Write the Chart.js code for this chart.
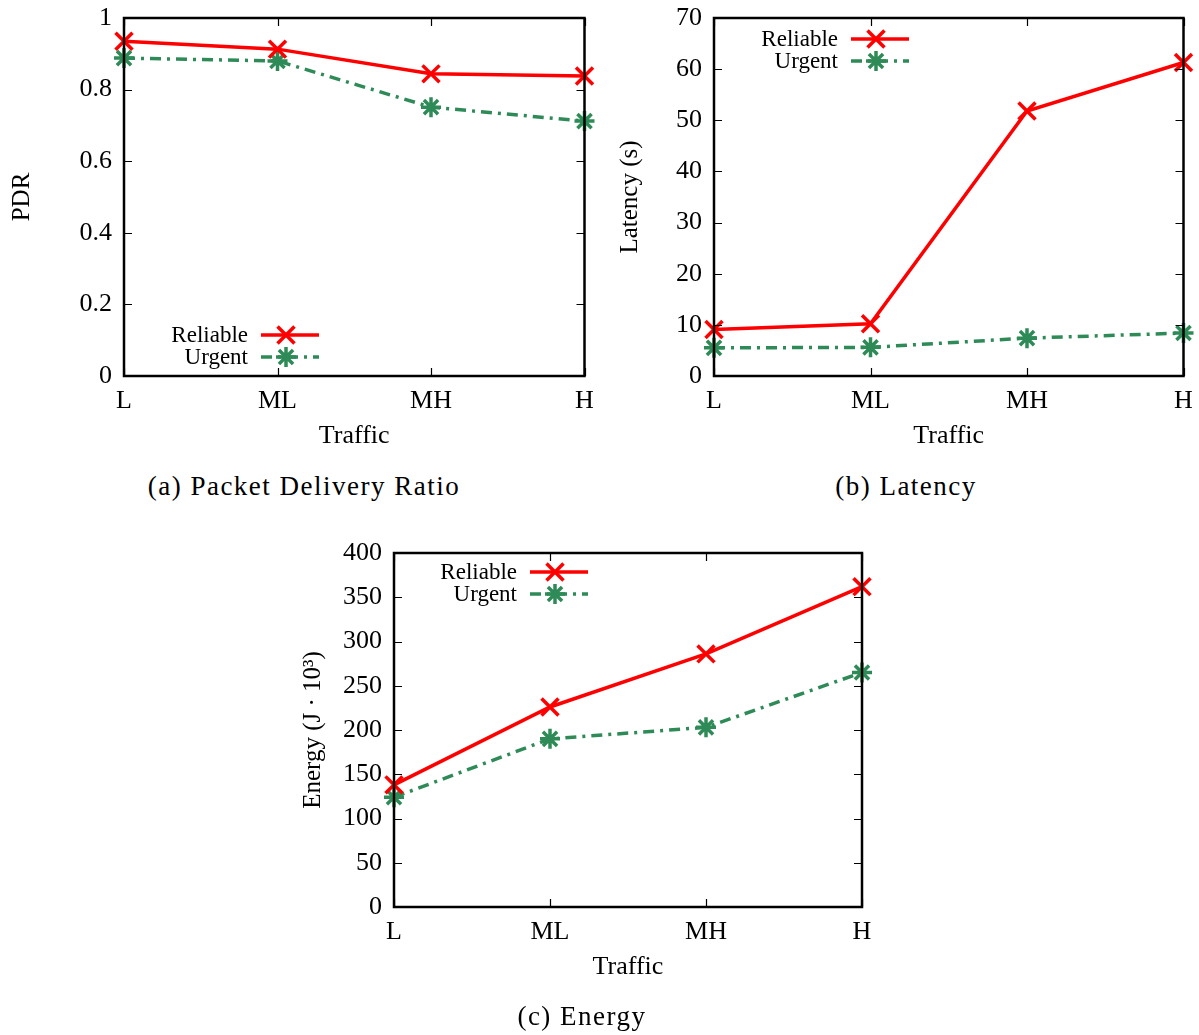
<!DOCTYPE html>
<html lang="en">
<head>
  <meta charset="UTF-8">
  <title>Reliable vs Urgent</title>
  <script src="https://cdn.jsdelivr.net/npm/chart.js"></script>
  <style>
    body { margin: 0; background: #fff; font-family: "Liberation Serif", serif; }
    #page { position: relative; width: 1199px; height: 1035px; }
    .box { position: absolute; }
    .caption { position: absolute; font-size: 27px; letter-spacing: 1.5px; color: #000; white-space: nowrap; transform: translateX(-50%); }
  </style>
</head>
<body>
<div id="page">
  <div class="box" style="left:0;top:0;width:600px;height:470px"><canvas id="pdr"></canvas></div>
  <div class="box" style="left:600px;top:0;width:599px;height:470px"><canvas id="lat"></canvas></div>
  <div class="box" style="left:280px;top:535px;width:600px;height:470px"><canvas id="energy"></canvas></div>
  <div class="caption" style="left:304px;top:471px">(a) Packet Delivery Ratio</div>
  <div class="caption" style="left:906px;top:471px">(b) Latency</div>
  <div class="caption" style="left:582px;top:1001px">(c) Energy</div>
</div>

<script>
const categories = ['L', 'ML', 'MH', 'H'];

const pdrReliable = [0.935, 0.913, 0.844, 0.838];
const pdrUrgent = [0.888, 0.880, 0.751, 0.712];

const latReliable = [9.1, 10.2, 51.8, 61.3];
const latUrgent = [5.5, 5.6, 7.4, 8.4];

const energyReliable = [138, 226, 286, 362];
const energyUrgent = [124, 190, 203, 265];

const RED = '#ff0000';
const GREEN = '#2e8b57';
const FONT = 'Liberation Serif';

Chart.defaults.font.family = FONT;
Chart.defaults.color = '#000';

// gnuplot style frame with inward ticks on all four sides
const framePlugin = {
  id: 'frame',
  afterDatasetsDraw(chart) {
    const {ctx, chartArea: a, scales} = chart;
    ctx.save();
    ctx.strokeStyle = '#000';
    ctx.lineWidth = 1.2;
    ctx.beginPath();
    scales.y.ticks.forEach((t, i) => {
      const py = Math.round(scales.y.getPixelForTick(i)) + 0.5;
      ctx.moveTo(a.left, py); ctx.lineTo(a.left + 8, py);
      ctx.moveTo(a.right, py); ctx.lineTo(a.right - 8, py);
    });
    scales.x.ticks.forEach((t, i) => {
      const px = Math.round(scales.x.getPixelForTick(i)) + 0.5;
      ctx.moveTo(px, a.bottom); ctx.lineTo(px, a.bottom - 8);
      ctx.moveTo(px, a.top); ctx.lineTo(px, a.top + 8);
    });
    ctx.stroke();
    ctx.lineWidth = 2.5;
    ctx.strokeRect(a.left, a.top, a.right - a.left, a.bottom - a.top);
    ctx.restore();
  }
};

// key drawn the gnuplot way: text right-aligned, then line sample with marker
const keyPlugin = {
  id: 'gpKey',
  afterDraw(chart, args, opts) {
    const {ctx} = chart;
    ctx.save();
    chart.data.datasets.forEach((ds, i) => {
      const y = opts.y + i * 22;
      ctx.font = '23px ' + FONT;
      ctx.fillStyle = '#000';
      ctx.textAlign = 'right';
      ctx.textBaseline = 'middle';
      ctx.fillText(ds.label, opts.x, y + 1);
      const x0 = opts.x + 13, x1 = x0 + 58;
      ctx.strokeStyle = ds.borderColor;
      ctx.lineWidth = ds.borderWidth;
      ctx.setLineDash(ds.borderDash || []);
      ctx.beginPath();
      ctx.moveTo(x0, y); ctx.lineTo(x1, y);
      ctx.stroke();
      ctx.setLineDash([]);
      ctx.fillStyle = ds.borderColor;
      Chart.helpers.drawPoint(ctx, {
        pointStyle: ds.pointStyle, radius: ds.pointRadius, borderWidth: ds.pointBorderWidth, rotation: 0
      }, (x0 + x1) / 2 - 4, y);
    });
    ctx.restore();
  }
};

function series(label, data, color, style, radius, dash) {
  return {
    label: label,
    data: data,
    borderColor: color,
    backgroundColor: color,
    pointBorderColor: color,
    pointBackgroundColor: color,
    borderWidth: 3.5,
    borderDash: dash,
    pointStyle: style,
    pointRadius: radius,
    pointBorderWidth: 3.5,
    tension: 0,
    clip: false
  };
}

function makeChart(id, reliable, urgent, yCfg, layout) {
  new Chart(document.getElementById(id), {
    type: 'line',
    data: {
      labels: categories,
      datasets: [
        series('Reliable', reliable, RED, 'crossRot', 12, []),
        series('Urgent', urgent, GREEN, 'star', 10, [11, 6, 3, 6])
      ]
    },
    options: {
      responsive: true,
      maintainAspectRatio: false,
      animation: false,
      layout: { padding: { top: 18, right: layout.right, left: 0, bottom: 0 } },
      scales: {
        x: {
          offset: false,
          grid: { display: false, drawTicks: false },
          border: { display: false },
          ticks: { font: { size: 26 }, padding: 10, maxRotation: 0 },
          title: { display: true, text: 'Traffic', font: { size: 26 }, padding: { bottom: layout.titleBottom } },
          afterFit(s) { s.height = layout.xHeight; s.paddingLeft = 0; s.paddingRight = 0; }
        },
        y: {
          min: yCfg.min,
          max: yCfg.max,
          grid: { display: false, drawTicks: false },
          border: { display: false },
          ticks: {
            stepSize: yCfg.step,
            font: { size: 26 },
            padding: 12,
            callback: (v) => String(Number(v.toFixed(2)))
          },
          title: { display: true, text: yCfg.title, font: { size: 25 }, padding: { top: layout.titleLeft } },
          afterFit(s) { s.width = layout.yWidth; s.paddingTop = 0; s.paddingBottom = 0; }
        }
      },
      plugins: {
        legend: { display: false },
        tooltip: { enabled: false },
        gpKey: layout.key
      }
    },
    plugins: [framePlugin, keyPlugin]
  });
}

makeChart('pdr', pdrReliable, pdrUrgent,
  { min: 0, max: 1, step: 0.2, title: 'PDR' },
  { right: 15, yWidth: 124, xHeight: 94, titleBottom: 18, titleLeft: 7, key: { x: 248, y: 335 } });

makeChart('lat', latReliable, latUrgent,
  { min: 0, max: 70, step: 10, title: 'Latency (s)' },
  { right: 12, yWidth: 114, xHeight: 94, titleBottom: 18, titleLeft: 15, key: { x: 238, y: 39 } });

makeChart('energy', energyReliable, energyUrgent,
  { min: 0, max: 400, step: 50, title: 'Energy (J · 10³)' },
  { right: 18, yWidth: 114, xHeight: 98, titleBottom: 22, titleLeft: 18, key: { x: 237, y: 37 } });
</script>
</body>
</html>
